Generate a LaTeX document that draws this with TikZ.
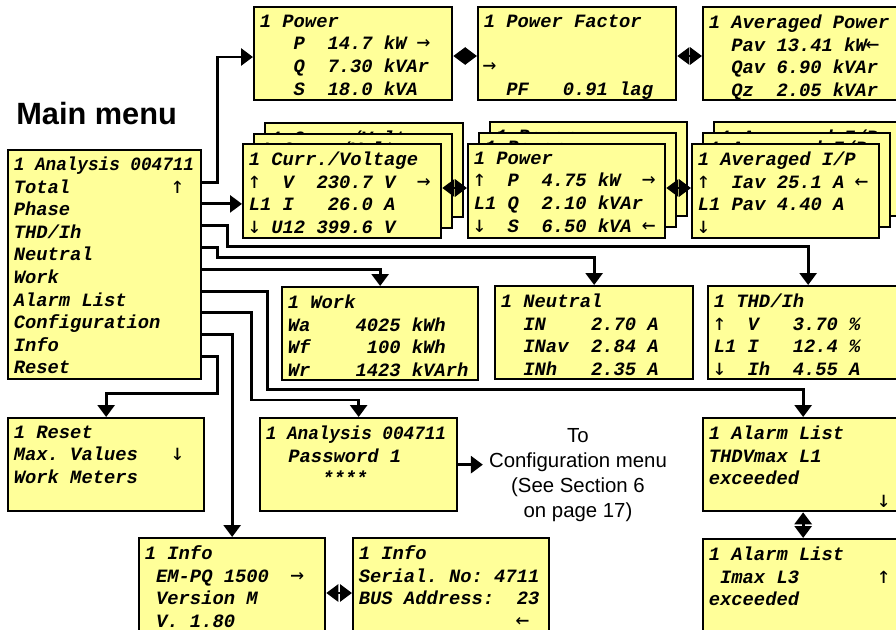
\documentclass[tikz,border=0pt]{standalone}
\usepackage{fontspec}
\usepackage{graphicx}
\setmainfont{Liberation Serif}
\setsansfont{Liberation Sans}
\setmonofont{Liberation Mono}
\newfontfamily\arwfont{DejaVu Sans Mono}
\usetikzlibrary{arrows.meta,calc}

\definecolor{lcdyellow}{RGB}{255,255,153}
\newcommand{\lcd}{\ttfamily\bfseries\itshape\fontsize{10.7}{12.87}\selectfont\frenchspacing}
\newcommand{\gap}[1]{\hspace*{#1\dimexpr 0.6em\relax}}
\newcommand{\arw}[1]{\makebox[0.6em][c]{\arwfont\mdseries\upshape\fontsize{13}{13}\selectfont #1}}
\newcommand{\squeeze}[1]{\scalebox{0.94}[1]{#1}}

\begin{document}
\begin{tikzpicture}[
  x=0.02cm,
  y=-0.02cm,
  lcd/.style={draw=black, line width=1.3pt, fill=lcdyellow, inner sep=0pt, anchor=north west},
  lcdsize/.style 2 args={minimum width=#1*0.02cm, minimum height=#2*0.02cm},
  lcdtext/.style={anchor=north west, align=left, inner sep=0pt, font=\lcd, execute at begin node={\rule{0pt}{10pt}}},
  conn/.style={line width=1.6pt, -{Triangle[length=0.24cm, width=0.34cm]}},
  dbl/.style={line width=1.6pt, {Triangle[length=0.24cm, width=0.34cm]}-{Triangle[length=0.24cm, width=0.34cm]}},
  note/.style={font=\sffamily\fontsize{11.6}{14.2}\selectfont, align=center}
]
  \useasboundingbox (0,0) rectangle (896,629);
  \clip (0,0) rectangle (896,629);

  \node[anchor=base west, inner sep=0pt, font=\sffamily\bfseries\fontsize{17.5}{21}\selectfont] (title) at (16,124) {Main menu};

  \node[lcd, lcdsize={193}{229}] (menu) at (7,149) {};
  \node[lcdtext] (menut) at ($(menu.north west)+(6.5,7.5)$) {\squeeze{1 Analysis 004711}\\
Total\gap{9}\arw{↑}\\
Phase\\
THD/Ih\\
Neutral\\
Work\\
Alarm List\\
Configuration\\
Info\\
Reset};

  \node[lcd, lcdsize={198}{93}] (pow1) at (253,6) {};
  \node[lcdtext] (pow1t) at ($(pow1.north west)+(6.5,8.5)$) {1 Power\\
\gap{3}P\gap{2}14.7 kW \arw{→}\\
\gap{3}Q\gap{2}7.30 kVAr\\
\gap{3}S\gap{2}18.0 kVA};

  \node[lcd, lcdsize={198}{93}] (pf) at (477,6) {};
  \node[lcdtext] (pft) at ($(pf.north west)+(6.5,8.5)$) {1 Power Factor\\
\mbox{}\\
\arw{→}\\
\gap{2}PF\gap{3}0.91 lag};

  \node[lcd, lcdsize={200}{93}] (avgp) at (702,6) {};
  \node[lcdtext] (avgpt) at ($(avgp.north west)+(6.5,8.5)$) {1 Averaged Power\\
\gap{2}Pav 13.41 kW\arw{←}\\
\gap{2}Qav 6.90 kVAr\\
\gap{2}Qz\gap{2}2.05 kVAr};

  \foreach \n/\x/\y/\l in {cv3/264/122/L3, cv2/253/133/L2, cv/242/143/L1} {
    \node[lcd, lcdsize={198}{94}] (\n) at (\x,\y) {};
    \node[lcdtext] (\n t) at ($(\n.north west)+(6.5,8.5)$) {1 Curr./Voltage\\
\arw{↑}\gap{2}V\gap{2}230.7 V\gap{2}\arw{→}\\
\l{} I\gap{3}26.0 A\\
\arw{↓} U12 399.6 V};
  }

  \foreach \n/\x/\y/\l in {pw3/489/121/L3, pw2/478/132/L2, pw/467/143/L1} {
    \node[lcd, lcdsize={197}{94}] (\n) at (\x,\y) {};
    \node[lcdtext] (\n t) at ($(\n.north west)+(6.5,8.5)$) {1 Power\\
\arw{↑}\gap{2}P\gap{2}4.75 kW\gap{2}\arw{→}\\
\l{} Q\gap{2}2.10 kVAr\\
\arw{↓}\gap{2}S\gap{2}6.50 kVA \arw{←}};
  }

  \foreach \n/\x/\y/\l in {aip3/713/121/L3, aip2/702/132/L2, aip/691/143/L1} {
    \node[lcd, lcdsize={187}{94}] (\n) at (\x,\y) {};
    \node[lcdtext] (\n t) at ($(\n.north west)+(6.5,8.5)$) {1 Averaged I/P\\
\arw{↑}\gap{2}Iav 25.1 A \arw{←}\\
\l{} Pav 4.40 A\\
\arw{↓}};
  }

  \node[lcd, lcdsize={196}{93}] (wrk) at (281,286) {};
  \node[lcdtext] (wrkt) at ($(wrk.north west)+(6.5,8.5)$) {1 Work\\
Wa\gap{4}4025 kWh\\
Wf\gap{5}100 kWh\\
Wr\gap{4}1423 kVArh};

  \node[lcd, lcdsize={198}{93}] (neu) at (494,285) {};
  \node[lcdtext] (neut) at ($(neu.north west)+(6.5,8.5)$) {1 Neutral\\
\gap{2}IN\gap{4}2.70 A\\
\gap{2}INav\gap{2}2.84 A\\
\gap{2}INh\gap{3}2.35 A};

  \node[lcd, lcdsize={200}{93}] (thdb) at (707,285) {};
  \node[lcdtext] (thdt) at ($(thdb.north west)+(6.5,8.5)$) {1 THD/Ih\\
\arw{↑}\gap{2}V\gap{3}3.70 \%\\
L1 I\gap{3}12.4 \%\\
\arw{↓}\gap{2}Ih\gap{2}4.55 A};

  \node[lcd, lcdsize={196}{93}] (rst) at (7,417) {};
  \node[lcdtext] (rstt) at ($(rst.north west)+(6.5,8.5)$) {1 Reset\\
Max. Values\gap{3}\arw{↓}\\
Work Meters};

  \node[lcd, lcdsize={197}{93}] (pwd) at (259,417) {};
  \node[lcdtext] (pwdt) at ($(pwd.north west)+(6.5,8.5)$) {\squeeze{1 Analysis 004711}\\
\gap{2}Password 1\\
\gap{5}****};

  \node[lcd, lcdsize={200}{93}] (alm1) at (702,417) {};
  \node[lcdtext] (alm1t) at ($(alm1.north west)+(6.5,8.5)$) {1 Alarm List\\
THDVmax L1\\
exceeded\\
\gap{15}\arw{↓}};

  \node[lcd, lcdsize={200}{100}] (alm2) at (702,538) {};
  \node[lcdtext] (alm2t) at ($(alm2.north west)+(6.5,8.5)$) {1 Alarm List\\
\gap{1}Imax L3\gap{7}\arw{↑}\\
exceeded};

  \node[lcd, lcdsize={186}{100}] (inf1) at (138,537) {};
  \node[lcdtext] (inf1t) at ($(inf1.north west)+(6.5,8.5)$) {1 Info\\
\gap{1}EM-PQ 1500\gap{2}\arw{→}\\
\gap{1}Version M\\
\gap{1}V. 1.80};

  \node[lcd, lcdsize={196}{100}] (inf2) at (352,537) {};
  \node[lcdtext] (inf2t) at ($(inf2.north west)+(6.5,8.5)$) {1 Info\\
Serial. No: 4711\\
BUS Address:\gap{2}23\\
\gap{14}\arw{←}};

  \node[note] (cfgtxt) at (578,475) {To\\Configuration menu\\(See Section 6\\on page 17)};

  \foreach \n [count=\i] in {m-tot,m-pha,m-thd,m-neu,m-wrk,m-alm,m-cfg,m-inf,m-rst}
    \coordinate (\n) at ($(menu.north east)+(0,11.3+21.8*\i)$);

  \draw[conn] (m-tot) -- ++(15,0) |- ($(pow1.north west)+(0,51)$);
  \draw[conn] (m-pha) -- (m-pha -| cv.west);
  \draw[conn] (m-thd) -- ++(25,0) -- ++(0,21) -| (thdb.north);
  \draw[conn] (m-neu) -- ++(15,0) -- ++(0,10) -| (neu.north);
  \draw[conn] (m-wrk) -| (wrk.north);
  \draw[conn] (m-alm) -- ++(65,0) -- ++(0,98) -| (alm1.north);
  \draw[conn] (m-cfg) -- ++(49,0) -- ++(0,87) -| (pwd.north);
  \draw[conn] (m-inf) -| (inf1.north);
  \draw[conn] (m-rst) -- ++(15,0) -- ++(0,37) -| (rst.north);
  \draw[conn] (pwd.east) -- (pwd.east -| cfgtxt.west);

  \draw[dbl] ($(pow1.north east)+(0,50)$) -- ($(pf.north west)+(0,50)$);
  \draw[dbl] ($(pf.north east)+(0,50)$) -- ($(avgp.north west)+(0,50)$);
  \draw[dbl] ($(cv.north east)+(0,45)$) -- ($(pw.north west)+(0,45)$);
  \draw[dbl] ($(pw.north east)+(0,45)$) -- ($(aip.north west)+(0,45)$);
  \draw[dbl] ($(inf1.north east)+(0,56)$) -- ($(inf2.north west)+(0,56)$);
  \draw[dbl] (alm1.south) -- (alm2.north);
\end{tikzpicture}
\end{document}
